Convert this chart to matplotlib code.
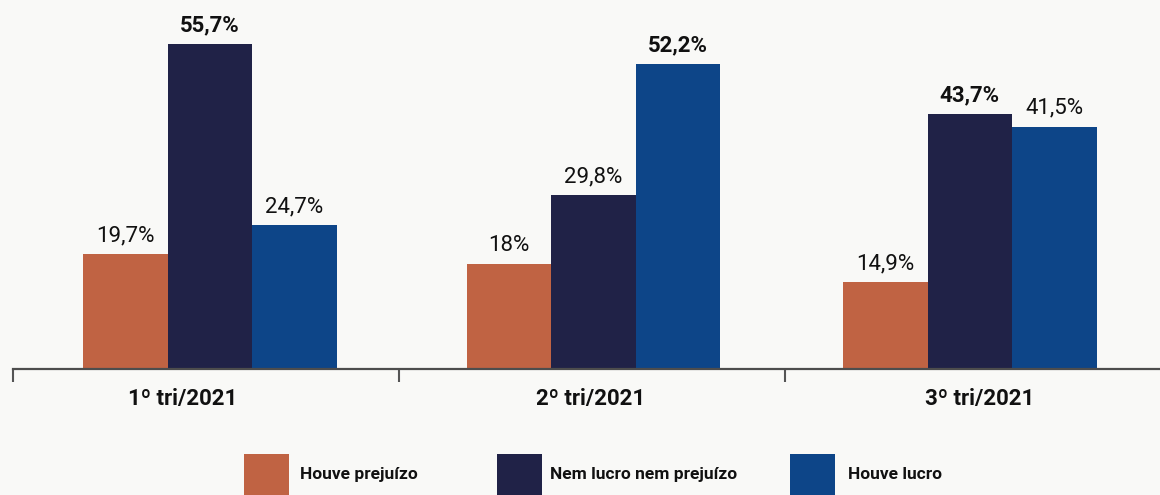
import matplotlib.pyplot as plt
from matplotlib.patches import Rectangle
import numpy as np

plt.rcParams["font.family"] = ["Roboto", "DejaVu Sans"]

categories = ["1º tri/2021", "2º tri/2021", "3º tri/2021"]
series_names = ["Houve prejuízo", "Nem lucro nem prejuízo", "Houve lucro"]
prejuizo = [19.7, 18.0, 14.9]
nem_lucro = [55.7, 29.8, 43.7]
lucro = [24.7, 52.2, 41.5]
value_labels = [
    ["19,7%", "18%", "14,9%"],
    ["55,7%", "29,8%", "43,7%"],
    ["24,7%", "52,2%", "41,5%"],
]

COLORS = ["#c06343", "#202247", "#0d4588"]
BG = "#f9f9f7"
W, H = 1160, 495

# layout (pixel-fitted)
group_centers = np.array([0.0104, 1.0039, 1.979])
label_x = [-0.0596, 0.997, 2.005]
bar_w = 0.219

fig = plt.figure(figsize=(W / 100, H / 100), dpi=100, facecolor=BG)
ax = fig.add_axes([13 / W, (H - 369) / H, (W - 13) / W, 369 / H])
ax.set_facecolor(BG)
ax.set_xlim(-0.5, -0.5 + (W - 13) / 386)
ax.set_ylim(0, 369 / 5.835)

series = [prejuizo, nem_lucro, lucro]
for i, (vals, color) in enumerate(zip(series, COLORS)):
    xs = group_centers + (i - 1) * bar_w
    ax.bar(xs, vals, width=bar_w, color=color, linewidth=0)
    for j, (x, v) in enumerate(zip(xs, vals)):
        is_max = v == max(s[j] for s in series)
        ax.annotate(value_labels[i][j], (x, v), xytext=(0, 9.3), textcoords="offset points",
                    ha="center", va="baseline", fontsize=16,
                    fontweight="bold" if is_max else "normal", color="#111111")

for s in ["top", "left", "right"]:
    ax.spines[s].set_visible(False)
ax.spines["bottom"].set_color("#4d4d4d")
ax.spines["bottom"].set_linewidth(1.6)
ax.set_yticks([])
ax.set_xticks([-0.5, 0.5, 1.5])
ax.set_xticklabels([])
ax.tick_params(axis="x", length=9.5, width=1.5, color="#555555")

for x, c in zip(label_x, categories):
    ax.text(x, -36 / 5.835, c, ha="center", va="baseline", fontsize=16,
            fontweight="bold", color="#111111")

# legend
legend_boxes = [244, 497, 790]
legend_text = [300, 550, 848]
for bx, tx, name, color in zip(legend_boxes, legend_text, series_names, COLORS):
    fig.patches.append(Rectangle((bx / W, 0), 45 / W, (H - 454) / H,
                                 transform=fig.transFigure, color=color, linewidth=0))
    fig.text(tx / W, (H - 479) / H, name, ha="left", va="baseline", fontsize=12.5,
             fontweight="bold", color="#111111")

fig.savefig("out.png", dpi=100, facecolor=BG)
